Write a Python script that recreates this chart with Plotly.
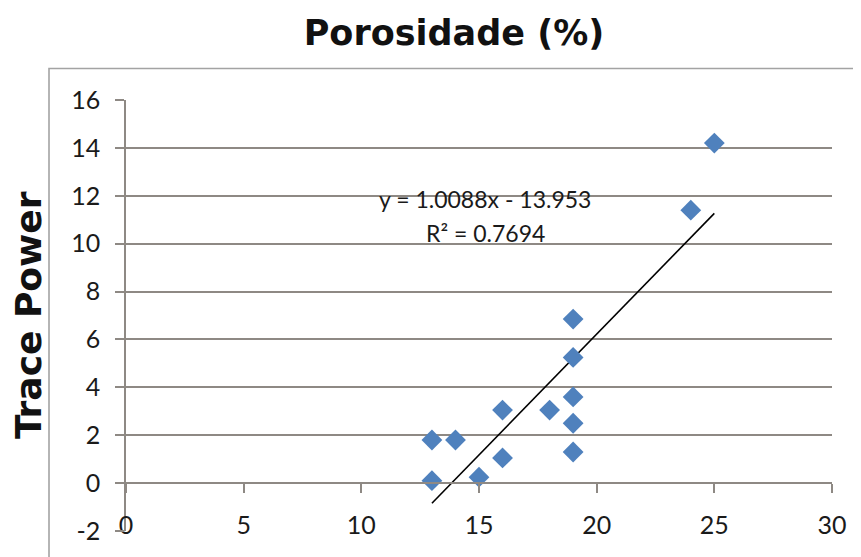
import plotly.graph_objects as go

# Data
porosidade = [13, 13, 14, 15, 16, 16, 18, 19, 19, 19, 19, 19, 24, 25]
trace_power = [0.1, 1.8, 1.8, 0.25, 1.05, 3.05, 3.05, 1.3, 2.5, 3.6, 5.25, 6.85, 11.4, 14.2]

# Trendline equation as printed on the chart
slope = 1.0088
intercept = -13.953
r_squared = 0.7694

x_ticks = [0, 5, 10, 15, 20, 25, 30]
y_ticks = [-2, 0, 2, 4, 6, 8, 10, 12, 14, 16]
y_tick_labels = [str(v) for v in y_ticks]

grid_col = "#8e8984"
tick_font = dict(family="Lato", size=25, color="#1a1a1a")

trend_x = [min(porosidade), max(porosidade)]
trend_y = [slope * v + intercept for v in trend_x]

# page body has an 8px margin; figure sized to fit the window
W, H = 853, 549
L, T = 118, 91.5
PW, PH = 706, 432

fig = go.Figure()
fig.add_trace(go.Scatter(
    x=trend_x, y=trend_y, mode="lines",
    line=dict(color="black", width=1.6), hoverinfo="skip", showlegend=False))
fig.add_trace(go.Scatter(
    x=porosidade, y=trace_power, mode="markers",
    marker=dict(symbol="diamond", size=16, color="#4f81bd", line=dict(width=0)),
    showlegend=False))

fig.update_layout(
    width=W, height=H,
    margin=dict(l=L, r=W - L - PW, t=T, b=H - T - PH),
    paper_bgcolor="white", plot_bgcolor="white",
    title=dict(text="<b>Porosidade (%)</b>", xref="container", yref="container",
               x=446 / W, y=1 - 25 / H, xanchor="center", yanchor="middle",
               font=dict(family="DejaVu Sans", size=35, color="#111111")),
    xaxis=dict(range=[0, 30], tickvals=x_ticks, showgrid=False, zeroline=False,
               showline=True, linecolor=grid_col, linewidth=1.6,
               ticks="outside", ticklen=9, tickcolor=grid_col, tickwidth=1.6,
               anchor="free", position=2/18, tickfont=tick_font,
               ticklabelstandoff=11),
    yaxis=dict(range=[-2, 16], tickvals=y_ticks, ticktext=y_tick_labels,
               showgrid=True, gridcolor=grid_col,
               gridwidth=1.6, zeroline=False, showline=True, linecolor=grid_col,
               linewidth=1.6, ticks="outside", ticklen=9, tickcolor=grid_col,
               tickwidth=1.6, tickfont=tick_font, ticklabelstandoff=10),
    annotations=[
        dict(text="<b>Trace Power</b>", xref="paper", yref="paper",
             x=(28.5 - 126) / PW, y=0.5, xanchor="center", yanchor="middle",
             textangle=-90, showarrow=False,
             font=dict(family="DejaVu Sans", size=36, color="#111111")),
        dict(text=f"y = {slope:.4f}x - {abs(intercept):.3f}", xref="x", yref="y",
             x=15.26, y=11.85, xanchor="center", yanchor="middle", showarrow=False,
             font=dict(family="Lato", size=23, color="#1a1a1a")),
        dict(text=f"R² = {r_squared:.4f}", xref="x", yref="y",
             x=15.26, y=10.44, xanchor="center", yanchor="middle", showarrow=False,
             font=dict(family="Lato", size=23, color="#1a1a1a")),
    ],
    shapes=[dict(type="rect", xref="paper", yref="paper",
                 x0=(49 - 126) / PW, x1=(880 - 126) / PW,
                 y0=(531.5 - 580) / PH, y1=(531.5 - 68) / PH,
                 line=dict(color="#a3a3a3", width=1.6), layer="below")],
)

fig.write_html("out.html")
